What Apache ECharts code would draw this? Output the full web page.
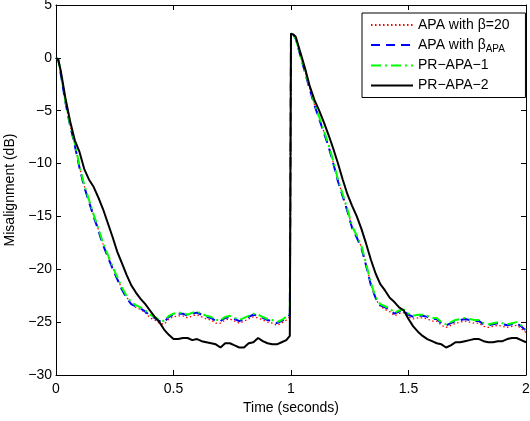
<!DOCTYPE html>
<html>
<head>
<meta charset="utf-8">
<script src="https://cdn.jsdelivr.net/npm/echarts@6/dist/echarts.min.js"></script>
<style>
html,body{margin:0;padding:0;background:#fff;}
#chart{width:530px;height:421px;}
</style>
</head>
<body>
<div id="chart"></div>
<script>
// Time axis (seconds)
const time = [
  0, 0.01, 0.02, 0.04, 0.06, 0.08, 0.10, 0.12, 0.14, 0.16,
  0.18, 0.20, 0.22, 0.24, 0.26, 0.28, 0.30, 0.32, 0.34, 0.36,
  0.38, 0.40, 0.42, 0.44, 0.46, 0.48, 0.50, 0.52, 0.54, 0.56,
  0.58, 0.60, 0.62, 0.64, 0.66, 0.68, 0.70, 0.72, 0.74, 0.76,
  0.78, 0.80, 0.82, 0.84, 0.86, 0.88, 0.90, 0.92, 0.94, 0.96,
  0.98, 0.995, 1.00, 1.01, 1.02, 1.04, 1.06, 1.08, 1.10, 1.12,
  1.14, 1.16, 1.18, 1.20, 1.22, 1.24, 1.26, 1.28, 1.30, 1.32,
  1.34, 1.36, 1.38, 1.40, 1.42, 1.44, 1.46, 1.48, 1.50, 1.52,
  1.54, 1.56, 1.58, 1.60, 1.62, 1.64, 1.66, 1.68, 1.70, 1.72,
  1.74, 1.76, 1.78, 1.80, 1.82, 1.84, 1.86, 1.88, 1.90, 1.92,
  1.94, 1.96, 1.98, 2.00
];

// APA with beta=20 (red dotted)
const apaBeta20 = [
  0, -0.2, -1.5, -4.2, -6.4, -8.2, -10.3, -12.1, -13.5, -14.9,
  -16.2, -17.6, -18.7, -19.8, -20.8, -21.8, -22.6, -23.3, -23.6, -23.8,
  -24.1, -24.6, -24.8, -25.1, -25.2, -24.7, -24.5, -24.4, -24.4, -24.6,
  -24.4, -24.3, -24.5, -24.7, -24.8, -25.1, -25.1, -24.8, -24.7, -24.9,
  -25.1, -24.9, -24.7, -24.5, -24.6, -24.8, -25.0, -25.1, -25.3, -25.1,
  -24.8, -24.5, 2.3, 2.2, 1.8, 0.3, -1.3, -2.9, -4.4, -5.7,
  -7.0, -8.3, -9.9, -11.6, -13.0, -14.4, -16.0, -16.9, -17.9, -19.6,
  -21.4, -22.8, -23.5, -23.8, -24.0, -24.4, -24.2, -24.1, -24.5, -24.7,
  -24.6, -24.6, -24.7, -24.9, -24.9, -25.3, -25.5, -25.3, -25.1, -25.0,
  -24.9, -25.0, -25.1, -25.1, -25.4, -25.5, -25.4, -25.3, -25.4, -25.5,
  -25.4, -25.3, -25.6, -26.0
];

// APA with beta_APA (blue dashed)
const apaBetaAPA = [
  0, -0.2, -1.5, -4.2, -6.4, -8.3, -10.4, -12.2, -13.6, -15.0,
  -16.3, -17.7, -18.8, -19.9, -20.9, -21.9, -22.7, -23.3, -23.5, -23.7,
  -24.0, -24.4, -24.6, -24.9, -25.0, -24.5, -24.3, -24.2, -24.2, -24.4,
  -24.2, -24.1, -24.3, -24.5, -24.6, -24.9, -24.9, -24.6, -24.5, -24.7,
  -24.9, -24.7, -24.5, -24.3, -24.4, -24.6, -24.8, -24.9, -25.1, -24.9,
  -24.6, -24.3, 2.3, 2.2, 1.8, 0.2, -1.4, -3.0, -4.5, -5.8,
  -7.1, -8.4, -10.0, -11.7, -13.1, -14.5, -16.1, -17.0, -18.0, -19.7,
  -21.5, -22.7, -23.4, -23.6, -23.8, -24.2, -24.0, -23.9, -24.3, -24.5,
  -24.4, -24.4, -24.5, -24.7, -24.7, -25.1, -25.3, -25.1, -24.9, -24.8,
  -24.7, -24.8, -24.9, -24.9, -25.2, -25.3, -25.2, -25.1, -25.2, -25.3,
  -25.2, -25.1, -25.4, -25.8
];

// PR-APA-1 (green dash-dot)
const prApa1 = [
  0, -0.2, -1.4, -4.1, -6.3, -8.1, -10.2, -12.0, -13.4, -14.8,
  -16.1, -17.5, -18.6, -19.7, -20.7, -21.7, -22.5, -23.1, -23.4, -23.6,
  -23.9, -24.3, -24.5, -24.8, -24.9, -24.4, -24.2, -24.1, -24.1, -24.3,
  -24.1, -24.0, -24.2, -24.4, -24.5, -24.8, -24.8, -24.5, -24.4, -24.6,
  -24.8, -24.6, -24.4, -24.2, -24.3, -24.5, -24.7, -24.8, -25.0, -24.8,
  -24.5, -24.2, 2.3, 2.2, 1.8, 0.3, -1.3, -2.8, -4.3, -5.6,
  -6.9, -8.2, -9.8, -11.5, -12.9, -14.3, -15.9, -16.8, -17.8, -19.5,
  -21.3, -22.6, -23.3, -23.5, -23.7, -24.1, -23.9, -23.8, -24.2, -24.4,
  -24.3, -24.3, -24.4, -24.6, -24.6, -25.0, -25.2, -25.0, -24.8, -24.7,
  -24.6, -24.7, -24.8, -24.8, -25.1, -25.2, -25.1, -25.0, -25.1, -25.2,
  -25.1, -25.0, -25.3, -25.7
];

// PR-APA-2 (black solid)
const prApa2 = [
  0, -0.2, -1.2, -3.8, -6.0, -7.8, -8.9, -10.5, -11.5, -12.2,
  -13.2, -14.3, -15.6, -16.9, -18.3, -19.4, -20.5, -21.5, -22.2, -22.8,
  -23.3, -23.9, -24.5, -25.0, -25.7, -26.2, -26.6, -26.6, -26.5, -26.5,
  -26.7, -26.6, -26.8, -26.9, -27.0, -27.1, -27.4, -27.0, -27.0, -27.2,
  -27.4, -27.4, -27.0, -26.9, -26.5, -26.8, -27.0, -27.1, -27.1, -26.9,
  -26.7, -26.3, 2.3, 2.2, 2.0, 0.5, -1.0, -2.7, -4.0, -5.0,
  -6.1, -7.3, -8.6, -10.0, -11.5, -12.9, -14.0, -15.0, -16.2, -17.6,
  -19.1, -20.4, -21.4, -22.0, -22.7, -23.1, -23.6, -23.9, -24.7, -25.4,
  -25.9, -26.3, -26.6, -26.8, -27.0, -27.1, -27.4, -27.2, -26.9, -26.9,
  -26.8, -26.7, -26.6, -26.6, -26.8, -26.9, -26.9, -26.8, -26.8, -26.6,
  -26.5, -26.5, -26.7, -26.9
];

const seriesNames = ['APA with β=20', 'APA with β_APA', 'PR−APA−1', 'PR−APA−2'];
const xTicks = [0, 0.5, 1, 1.5, 2];
const yTicks = [-30, -25, -20, -15, -10, -5, 0, 5];
const xTitle = 'Time (seconds)';
const yTitle = 'Misalignment (dB)';

const FONT = '"Liberation Sans", Arial, Helvetica, sans-serif';
const pair = arr => time.map((t, i) => [t, arr[i]]);
const minus = v => String(v).replace('-', '\u2212');

const chart = echarts.init(document.getElementById('chart'), null, {renderer: 'canvas'});

const axisCommon = {
  axisLine: {show: true, onZero: false, lineStyle: {color: '#000', width: 1}},
  axisTick: {show: true, inside: true, length: 5, lineStyle: {color: '#000', width: 1}},
  splitLine: {show: false}
};

chart.setOption({
  animation: false,
  backgroundColor: '#fff',
  textStyle: {fontFamily: FONT},
  grid: {left: 56, right: 4, top: 5, bottom: 46, containLabel: false, outerBoundsMode: 'none'},
  xAxis: [
    Object.assign({
      type: 'value', min: xTicks[0], max: xTicks[xTicks.length - 1], interval: 0.5,
      position: 'bottom',
      name: xTitle, nameLocation: 'middle', nameGap: 24,
      nameTextStyle: {color: '#000', fontSize: 14, fontFamily: FONT},
      axisLabel: {show: true, color: '#000', fontSize: 14, fontFamily: FONT, margin: 7,
        formatter: v => minus(v)}
    }, axisCommon),
    Object.assign({
      type: 'value', min: xTicks[0], max: xTicks[xTicks.length - 1], interval: 0.5,
      position: 'top', axisLabel: {show: false}
    }, axisCommon)
  ],
  yAxis: [
    Object.assign({
      type: 'value', min: yTicks[0], max: yTicks[yTicks.length - 1], interval: 5,
      position: 'left',
      name: yTitle, nameLocation: 'middle', nameGap: 33, nameRotate: 90,
      nameTextStyle: {color: '#000', fontSize: 14, fontFamily: FONT},
      axisLabel: {show: true, color: '#000', fontSize: 14, fontFamily: FONT, margin: 4,
        formatter: v => minus(v)}
    }, axisCommon),
    Object.assign({
      type: 'value', min: yTicks[0], max: yTicks[yTicks.length - 1], interval: 5,
      position: 'right', axisLabel: {show: false}
    }, axisCommon)
  ],
  legend: {
    orient: 'vertical',
    left: 362, top: 13,
    padding: [3, 16, 3, 8],
    itemGap: 2,
    itemWidth: 42,
    itemHeight: 14,
    backgroundColor: '#fff',
    borderColor: '#000',
    borderWidth: 1,
    borderRadius: 0,
    itemStyle: {opacity: 0},
    data: seriesNames,
    formatter: name => name.indexOf('_') >= 0 ? name.split('_')[0] + '{sub|' + name.split('_')[1] + '}' : name,
    textStyle: {
      color: '#000', fontSize: 14, fontFamily: FONT, lineHeight: 18,
      rich: {sub: {fontSize: 10, fontFamily: FONT, color: '#000', padding: [9, 0, 0, 0]}}
    }
  },
  series: [
    {name: seriesNames[0], type: 'line', data: pair(apaBeta20), showSymbol: false, symbol: 'none',
     lineStyle: {color: '#ff0000', width: 1.3, type: [1.5, 2.5]}, itemStyle: {color: '#ff0000'}},
    {name: seriesNames[1], type: 'line', data: pair(apaBetaAPA), showSymbol: false, symbol: 'none',
     lineStyle: {color: '#0000ff', width: 2, type: [9, 6]}, itemStyle: {color: '#0000ff'}},
    {name: seriesNames[2], type: 'line', data: pair(prApa1), showSymbol: false, symbol: 'none',
     lineStyle: {color: '#00ff00', width: 2, type: [10, 4, 2, 4]}, itemStyle: {color: '#00ff00'}},
    {name: seriesNames[3], type: 'line', data: pair(prApa2), showSymbol: false, symbol: 'none',
     lineStyle: {color: '#000000', width: 2, type: 'solid'}, itemStyle: {color: '#000000'}}
  ]
});
</script>
</body>
</html>
